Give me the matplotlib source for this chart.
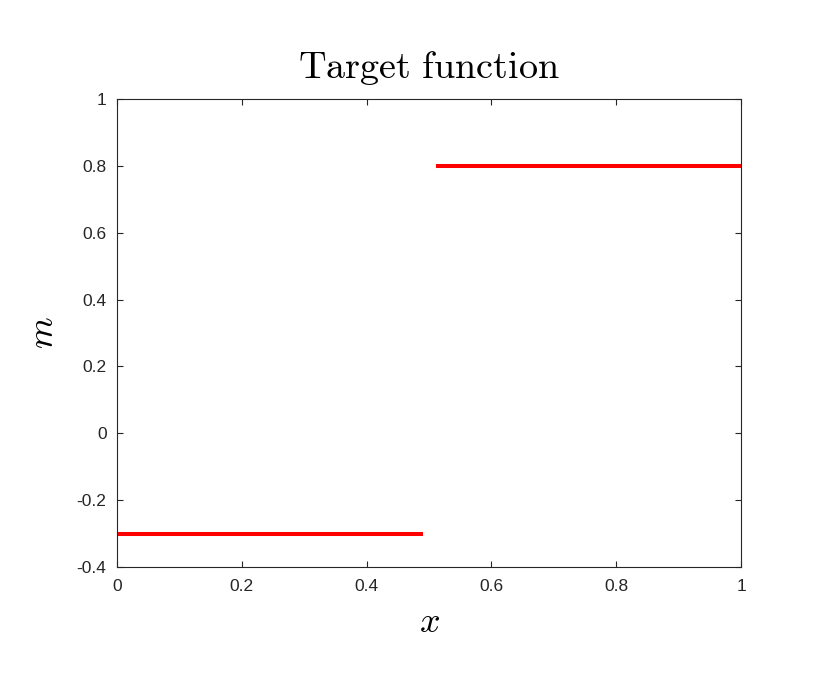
import matplotlib
matplotlib.use("Agg")
import matplotlib.pyplot as plt

plt.rcParams['mathtext.fontset'] = 'cm'
plt.rcParams['font.family'] = ['Liberation Sans', 'DejaVu Sans']

# data: piecewise-constant target function
x_left = [0.0, 0.49]
m_left = [-0.3, -0.3]
x_right = [0.511, 1.0]
m_right = [0.8, 0.8]

xticks = [0, 0.2, 0.4, 0.6, 0.8, 1]
xticklabels = ['0', '0.2', '0.4', '0.6', '0.8', '1']
yticks = [-0.4, -0.2, 0, 0.2, 0.4, 0.6, 0.8, 1]
yticklabels = ['-0.4', '-0.2', '0', '0.2', '0.4', '0.6', '0.8', '1']

fig = plt.figure(figsize=(8.3, 6.92), dpi=100)
ax = fig.add_axes([117/830, 1-567/692, 624/830, 468/692])

ax.plot(x_left, m_left, color='#ff0000', lw=2.9, solid_capstyle='butt')
ax.plot(x_right, m_right, color='#ff0000', lw=2.9, solid_capstyle='butt')

ax.set_xlim(0, 1)
ax.set_ylim(-0.4, 1)
ax.set_xticks(xticks)
ax.set_xticklabels(xticklabels)
ax.set_yticks(yticks)
ax.set_yticklabels(yticklabels)

for s in ax.spines.values():
    s.set_color('#262626')
    s.set_linewidth(0.8)
ax.tick_params(direction='in', length=4.5, width=0.8, color='#262626',
               labelcolor='#262626', labelsize=12.5, top=True, right=True)
ax.tick_params(axis='y', pad=7.5)
ax.tick_params(axis='x', pad=8.5)

ax.set_title(r'$\mathrm{Target\ function}$', fontsize=27.5, pad=15, color='black')
ax.set_xlabel(r'$x$', fontsize=26, labelpad=8)
ax.set_ylabel(r'$m$', fontsize=26, labelpad=11)

fig.savefig('out.png', dpi=100)
